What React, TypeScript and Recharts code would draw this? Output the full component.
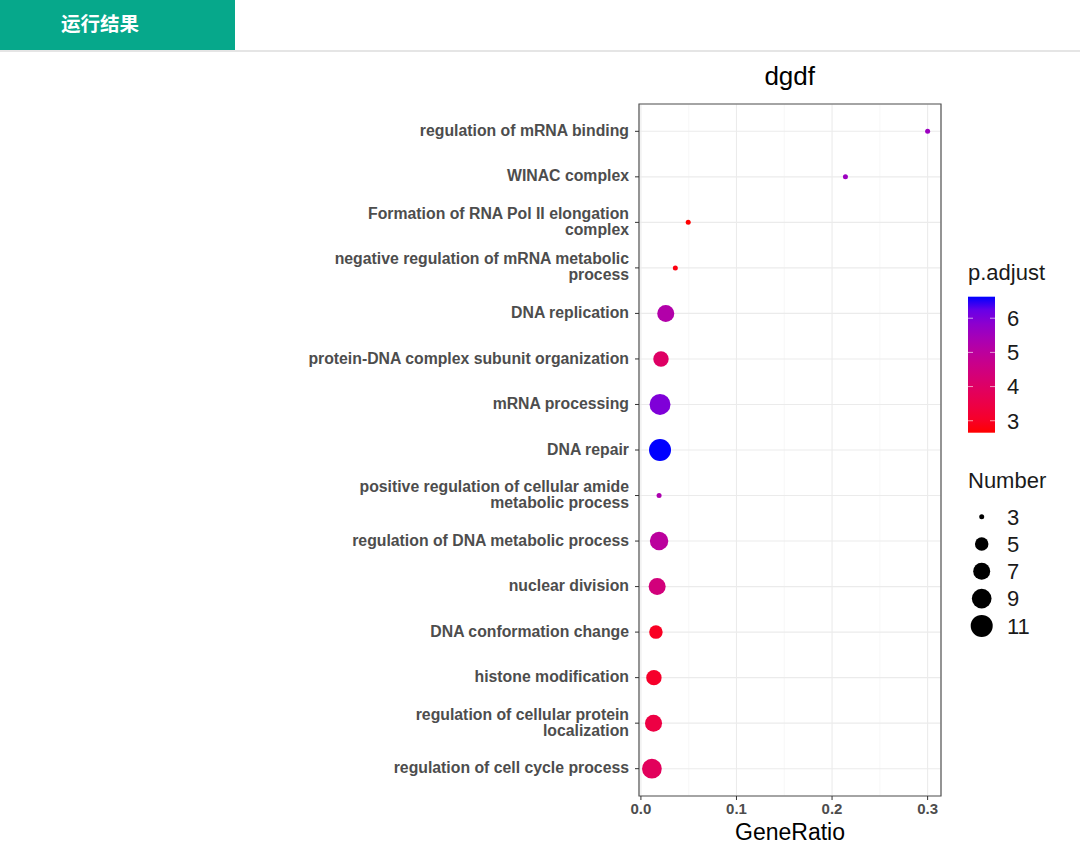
import {
  CartesianGrid,
  ReferenceArea,
  Scatter,
  ScatterChart,
  XAxis,
  YAxis,
} from "recharts";

// GO enrichment dot plot (ggplot-like). Top-to-bottom order of terms.
const TERMS = [
  "regulation of mRNA binding",
  "WINAC complex",
  "Formation of RNA Pol II elongation\ncomplex",
  "negative regulation of mRNA metabolic\nprocess",
  "DNA replication",
  "protein-DNA complex subunit organization",
  "mRNA processing",
  "DNA repair",
  "positive regulation of cellular amide\nmetabolic process",
  "regulation of DNA metabolic process",
  "nuclear division",
  "DNA conformation change",
  "histone modification",
  "regulation of cellular protein\nlocalization",
  "regulation of cell cycle process",
];
const GENE_RATIO = [
  0.3, 0.214, 0.0495, 0.036, 0.026, 0.021, 0.02, 0.02, 0.019, 0.019, 0.017,
  0.0157, 0.0136, 0.0132, 0.0115,
];
const COUNTS = [3, 3, 3, 3, 7, 6, 10, 11, 3, 8, 7, 5, 6, 7, 9];
const P_ADJUST = [
  5.6, 5.6, 2.65, 2.75, 5.2, 4.0, 6.0, 6.63, 5.3, 5.0, 4.4, 2.95, 3.05, 3.45,
  3.85,
];

const X_TICKS = [0, 0.1, 0.2, 0.3];
const X_MINOR = [0.05, 0.15, 0.25];
const COLOR_TICKS = [6, 5, 4, 3];
const SIZE_TICKS = [3, 5, 7, 9, 11];

const FONT = "'Liberation Sans', Arial, sans-serif";
const LABEL = "#4d4d4d";
const DARK = "#333333";

// scale_size (area) -> radius in px
const N_MIN = Math.min(...COUNTS);
const N_MAX = Math.max(...COUNTS);
const radius = (n: number) =>
  2.5 + 8.5 * Math.sqrt(Math.max(0, (n - N_MIN) / (N_MAX - N_MIN)));

// red -> blue gradient interpolated in CIELAB like ggplot
const P_MIN = Math.min(...P_ADJUST);
const P_MAX = Math.max(...P_ADJUST);
const RED_LAB = [53.24, 80.09, 67.2];
const BLUE_LAB = [32.3, 79.19, -107.86];
function labToHex(L: number, a: number, b: number) {
  const fy = (L + 16) / 116;
  const fx = fy + a / 500;
  const fz = fy - b / 200;
  const inv = (t: number) => (t ** 3 > 0.008856 ? t ** 3 : (t - 16 / 116) / 7.787);
  const X = 0.95047 * inv(fx);
  const Y = inv(fy);
  const Z = 1.08883 * inv(fz);
  const lin = [
    3.2406 * X - 1.5372 * Y - 0.4986 * Z,
    -0.9689 * X + 1.8758 * Y + 0.0415 * Z,
    0.0557 * X - 0.204 * Y + 1.057 * Z,
  ];
  return (
    "#" +
    lin
      .map((c) => {
        const v = c <= 0.0031308 ? 12.92 * c : 1.055 * c ** (1 / 2.4) - 0.055;
        const k = Math.round(Math.min(1, Math.max(0, v)) * 255);
        return k.toString(16).padStart(2, "0");
      })
      .join("")
  );
}
function colorOf(p: number) {
  const t = (p - P_MIN) / (P_MAX - P_MIN);
  return labToHex(
    RED_LAB[0] + (BLUE_LAB[0] - RED_LAB[0]) * t,
    RED_LAB[1] + (BLUE_LAB[1] - RED_LAB[1]) * t,
    RED_LAB[2] + (BLUE_LAB[2] - RED_LAB[2]) * t,
  );
}

const data = TERMS.map((term, i) => ({
  term,
  idx: i,
  ratio: GENE_RATIO[i],
  count: COUNTS[i],
  p: P_ADJUST[i],
}));

function TermTick(props: any) {
  const { x, y, payload } = props;
  const lines = String(TERMS[payload.value] ?? "").split("\n");
  const first = -(lines.length - 1) * 8 + 4.6;
  return (
    <text
      x={x}
      y={y}
      textAnchor="end"
      fill={LABEL}
      fontSize={15.8}
      fontWeight="bold"
      fontFamily={FONT}
    >
      {lines.map((l, k) => (
        <tspan key={k} x={x} dy={k === 0 ? first : 16}>
          {l}
        </tspan>
      ))}
    </text>
  );
}

function Dot(props: any) {
  const { cx, cy, payload } = props;
  return <circle cx={cx} cy={cy} r={radius(payload.count)} fill={colorOf(payload.p)} />;
}

// legend geometry (colourbar + size keys)
const BAR_X = 968;
const BAR_TOP = 296.7;
const BAR_H = 136;
const BAR_W = 27;
const barY = (v: number) => BAR_TOP + ((P_MAX - v) / (P_MAX - P_MIN)) * BAR_H;

function Overlay() {
  const stops = Array.from({ length: 11 }, (_, k) => k / 10);
  return (
    <svg
      width={1080}
      height={845}
      style={{ position: "absolute", left: 0, top: 0, pointerEvents: "none" }}
      fontFamily={FONT}
    >
      {/* header */}
      <rect x={0} y={0} width={235} height={50} fill="#06a88b" />
      <line x1={0} x2={1080} y1={51} y2={51} stroke="#dcdcdc" strokeWidth={1.5} />
      <text
        x={100}
        y={31}
        textAnchor="middle"
        fill="#fff"
        fontSize={19.5}
        fontWeight="bold"
        fontFamily="'Noto Sans CJK SC', sans-serif"
      >
        运行结果
      </text>

      {/* title */}
      <text x={789.7} y={85} textAnchor="middle" fontSize={26} fill="#000">
        dgdf
      </text>

      {/* colour legend */}
      <defs>
        <linearGradient id="pgrad" x1="0" y1="1" x2="0" y2="0">
          {stops.map((s) => (
            <stop key={s} offset={s} stopColor={colorOf(P_MIN + s * (P_MAX - P_MIN))} />
          ))}
        </linearGradient>
      </defs>
      <text x={BAR_X} y={280} fontSize={22} fill="#1a1a1a">
        p.adjust
      </text>
      <rect x={BAR_X} y={BAR_TOP} width={BAR_W} height={BAR_H} fill="url(#pgrad)" />
      {COLOR_TICKS.map((v) => (
        <g key={v}>
          <line x1={BAR_X} x2={BAR_X + 5} y1={barY(v)} y2={barY(v)} stroke="#fff" strokeOpacity={0.6} />
          <line x1={BAR_X + BAR_W - 5} x2={BAR_X + BAR_W} y1={barY(v)} y2={barY(v)} stroke="#fff" strokeOpacity={0.6} />
          <text x={1007} y={barY(v) + 7.8} fontSize={22} fill="#1a1a1a">
            {v}
          </text>
        </g>
      ))}

      {/* size legend */}
      <text x={BAR_X} y={488} fontSize={22} fill="#1a1a1a">
        Number
      </text>
      {SIZE_TICKS.map((v, k) => (
        <g key={v}>
          <circle cx={981.7} cy={516.7 + k * 27.3} r={radius(v)} fill="#000" />
          <text x={1007} y={516.7 + k * 27.3 + 7.8} fontSize={22} fill="#1a1a1a">
            {v}
          </text>
        </g>
      ))}
    </svg>
  );
}

export default function App() {
  return (
    <div
      style={{
        position: "absolute",
        left: 0,
        top: 0,
        width: 1080,
        height: 845,
        background: "#fff",
        fontFamily: FONT,
      }}
    >
      <ScatterChart
        width={1080}
        height={845}
        margin={{ top: 104, right: 139, bottom: 0, left: 0 }}
      >
        <XAxis
          xAxisId="minor"
          dataKey="ratio"
          type="number"
          domain={[-0.002, 0.314]}
          ticks={X_MINOR}
          allowDataOverflow
          hide
        />
        <CartesianGrid
          xAxisId="minor"
          horizontal={false}
          stroke="#f3f3f3"
          strokeWidth={0.7}
        />
        <CartesianGrid stroke="#ebebeb" strokeWidth={1.1} />
        <XAxis
          dataKey="ratio"
          type="number"
          domain={[-0.002, 0.314]}
          ticks={X_TICKS}
          allowDataOverflow
          height={49}
          tickFormatter={(v: number) => v.toFixed(1)}
          tick={{ fontSize: 15, fontWeight: "bold", fill: LABEL, fontFamily: FONT }}
          tickLine={{ stroke: DARK }}
          tickSize={4}
          tickMargin={3}
          axisLine={false}
          label={{
            value: "GeneRatio",
            position: "insideBottom",
            offset: 5,
            fontSize: 23,
            fill: "#000",
            fontFamily: FONT,
          }}
        />
        <YAxis
          dataKey="idx"
          type="number"
          domain={[-0.6, 14.6]}
          ticks={TERMS.map((_, i) => i)}
          interval={0}
          reversed
          width={639}
          tick={<TermTick />}
          tickLine={{ stroke: DARK }}
          tickSize={4}
          tickMargin={6}
          axisLine={false}
        />
        <ReferenceArea
          x1={-0.002}
          x2={0.314}
          y1={-0.6}
          y2={14.6}
          fill="none"
          stroke="#555"
          strokeWidth={1.2}
          ifOverflow="visible"
        />
        <Scatter data={data} shape={<Dot />} isAnimationActive={false} />
      </ScatterChart>
      <Overlay />
    </div>
  );
}
